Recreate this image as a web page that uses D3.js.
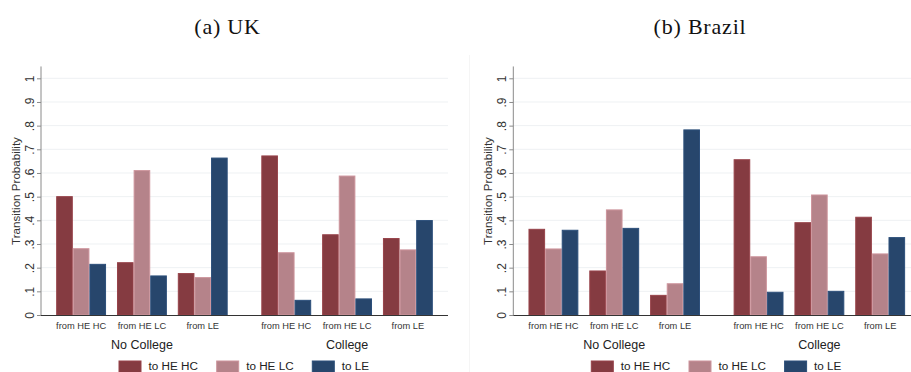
<!DOCTYPE html>
<html>
<head>
<meta charset="utf-8">
<script src="https://cdn.jsdelivr.net/npm/d3@7"></script>
<style>
  html, body { margin: 0; padding: 0; background: #fff; }
  svg { display: block; }
</style>
</head>
<body>
<svg id="chart" width="911" height="372"></svg>
<script>
// ---------- data ----------
const clusters = ["No College", "College"];
const categories = ["from HE HC", "from HE LC", "from LE"];
const series = ["to HE HC", "to HE LC", "to LE"];
const seriesColors = ["#853b41", "#b5838a", "#27466c"];
const yTicks = [0, 0.1, 0.2, 0.3, 0.4, 0.5, 0.6, 0.7, 0.8, 0.9, 1];

// values in order: No College (HE HC, HE LC, LE), College (HE HC, HE LC, LE)
const ukToHEHC = [0.500, 0.221, 0.175, 0.672, 0.339, 0.323];
const ukToHELC = [0.280, 0.610, 0.158, 0.263, 0.587, 0.275];
const ukToLE   = [0.214, 0.165, 0.663, 0.062, 0.068, 0.399];

const brToHEHC = [0.362, 0.186, 0.083, 0.656, 0.390, 0.413];
const brToHELC = [0.279, 0.444, 0.132, 0.246, 0.507, 0.258];
const brToLE   = [0.358, 0.366, 0.782, 0.096, 0.100, 0.327];

const panels = [
  { title: "(a) UK", titleX: 227.5, axisX: 41, rightX: 448, values: [ukToHEHC, ukToHELC, ukToLE] },
  { title: "(b) Brazil", titleX: 700, axisX: 513.3, rightX: 920.3, values: [brToHEHC, brToHELC, brToLE] }
];

const svg = d3.select("#chart");
const FONT = "Liberation Sans, Arial, Helvetica, sans-serif";
const y0 = 315, y1 = 78.3;

// faint sub-figure divider
svg.append("line")
  .attr("x1", 469.5).attr("x2", 469.5).attr("y1", 55).attr("y2", 372)
  .attr("stroke", "#f5f5f5").attr("stroke-width", 1);

panels.forEach(p => {
  const g = svg.append("g");

  const y = d3.scaleLinear().domain([0, 1]).range([y0, y1]);

  const xCluster = d3.scaleBand().domain(clusters)
    .range([p.axisX, p.rightX]).paddingInner(0.164).paddingOuter(0.074);
  const xCat = d3.scaleBand().domain(categories)
    .range([0, xCluster.bandwidth()]).paddingInner(0.18).paddingOuter(0);
  const xSer = d3.scaleBand().domain(series)
    .range([0, xCat.bandwidth()]).padding(0);

  // title
  g.append("text")
    .attr("x", p.titleX).attr("y", 34)
    .attr("text-anchor", "middle")
    .attr("font-family", "Liberation Serif, DejaVu Serif, serif")
    .attr("font-size", 22)
    .attr("letter-spacing", 0.8)
    .attr("fill", "#111")
    .text(p.title);

  // grid lines
  g.append("g").selectAll("line")
    .data(yTicks.filter(t => t > 0))
    .join("line")
    .attr("x1", p.axisX).attr("x2", p.rightX)
    .attr("y1", d => y(d)).attr("y2", d => y(d))
    .attr("stroke", "#eef1f3").attr("stroke-width", 1);

  // bars
  const rows = [];
  clusters.forEach((c, ci) => {
    categories.forEach((cat, ki) => {
      series.forEach((s, si) => {
        rows.push({ c, cat, s, si, v: p.values[si][ci * 3 + ki] });
      });
    });
  });
  g.append("g").selectAll("rect")
    .data(rows)
    .join("rect")
    .attr("x", d => xCluster(d.c) + xCat(d.cat) + xSer(d.s) + 0.5)
    .attr("width", xSer.bandwidth() - 1)
    .attr("y", d => y(d.v))
    .attr("height", d => y0 - y(d.v))
    .attr("fill", d => seriesColors[d.si])
    .attr("stroke", d => d3.color(seriesColors[d.si]).brighter(0.35))
    .attr("stroke-width", 1);

  // y axis
  const yAxis = d3.axisLeft(y)
    .tickValues(yTicks)
    .tickSize(4)
    .tickFormat(d => d === 0 ? "0" : d === 1 ? "1" : d3.format(".1f")(d).replace(/^0/, ""));
  const ax = g.append("g")
    .attr("transform", `translate(${p.axisX},0)`)
    .call(yAxis);
  ax.select(".domain").remove();
  ax.append("line")
    .attr("x1", 0).attr("x2", 0).attr("y1", y(1.05)).attr("y2", y0)
    .attr("stroke", "#8a8a8a").attr("stroke-width", 1);
  ax.selectAll(".tick line").attr("stroke", "#8a8a8a");
  ax.selectAll(".tick text")
    .attr("x", null).attr("dy", null)
    .attr("transform", "translate(-11,0) rotate(-90)")
    .attr("text-anchor", "middle")
    .attr("dominant-baseline", "central")
    .attr("font-family", FONT)
    .attr("font-size", 12)
    .attr("fill", "#333");

  // baseline
  g.append("line")
    .attr("x1", p.axisX).attr("x2", p.rightX)
    .attr("y1", y0 + 0.5).attr("y2", y0 + 0.5)
    .attr("stroke", "#333").attr("stroke-width", 1.2);

  // y title
  g.append("text")
    .attr("transform", `translate(${p.axisX - 26},191) rotate(-90)`)
    .attr("text-anchor", "middle")
    .attr("dominant-baseline", "central")
    .attr("font-family", FONT)
    .attr("font-size", 11.6)
    .attr("fill", "#333")
    .text("Transition Probability");

  // category labels
  clusters.forEach(c => {
    g.append("g").selectAll("text")
      .data(categories)
      .join("text")
      .attr("x", d => xCluster(c) + xCat(d) + xCat.bandwidth() / 2)
      .attr("y", 326)
      .attr("text-anchor", "middle")
      .attr("dominant-baseline", "central")
      .attr("font-family", FONT)
      .attr("font-size", 9.3)
      .attr("fill", "#333")
      .text(d => d);
  });

  // cluster labels
  g.append("g").selectAll("text")
    .data(clusters)
    .join("text")
    .attr("x", d => xCluster(d) + xCluster.bandwidth() / 2)
    .attr("y", 344.5)
    .attr("text-anchor", "middle")
    .attr("dominant-baseline", "central")
    .attr("font-family", FONT)
    .attr("font-size", 12.5)
    .attr("fill", "#222")
    .text(d => d);

  // legend
  const cx = (p.axisX + p.rightX) / 2;
  const offsets = [-125.5, -27.8, 67.8]; // swatch left offsets from centre
  const lg = g.append("g");
  series.forEach((s, i) => {
    lg.append("rect")
      .attr("x", cx + offsets[i]).attr("y", 361)
      .attr("width", 22).attr("height", 13)
      .attr("fill", seriesColors[i])
      .attr("stroke", d3.color(seriesColors[i]).brighter(0.35));
    lg.append("text")
      .attr("x", cx + offsets[i] + 29.5).attr("y", 365.8)
      .attr("dominant-baseline", "central")
      .attr("font-family", FONT)
      .attr("font-size", 11.7)
      .attr("fill", "#222")
      .text(s);
  });
});
</script>
</body>
</html>
